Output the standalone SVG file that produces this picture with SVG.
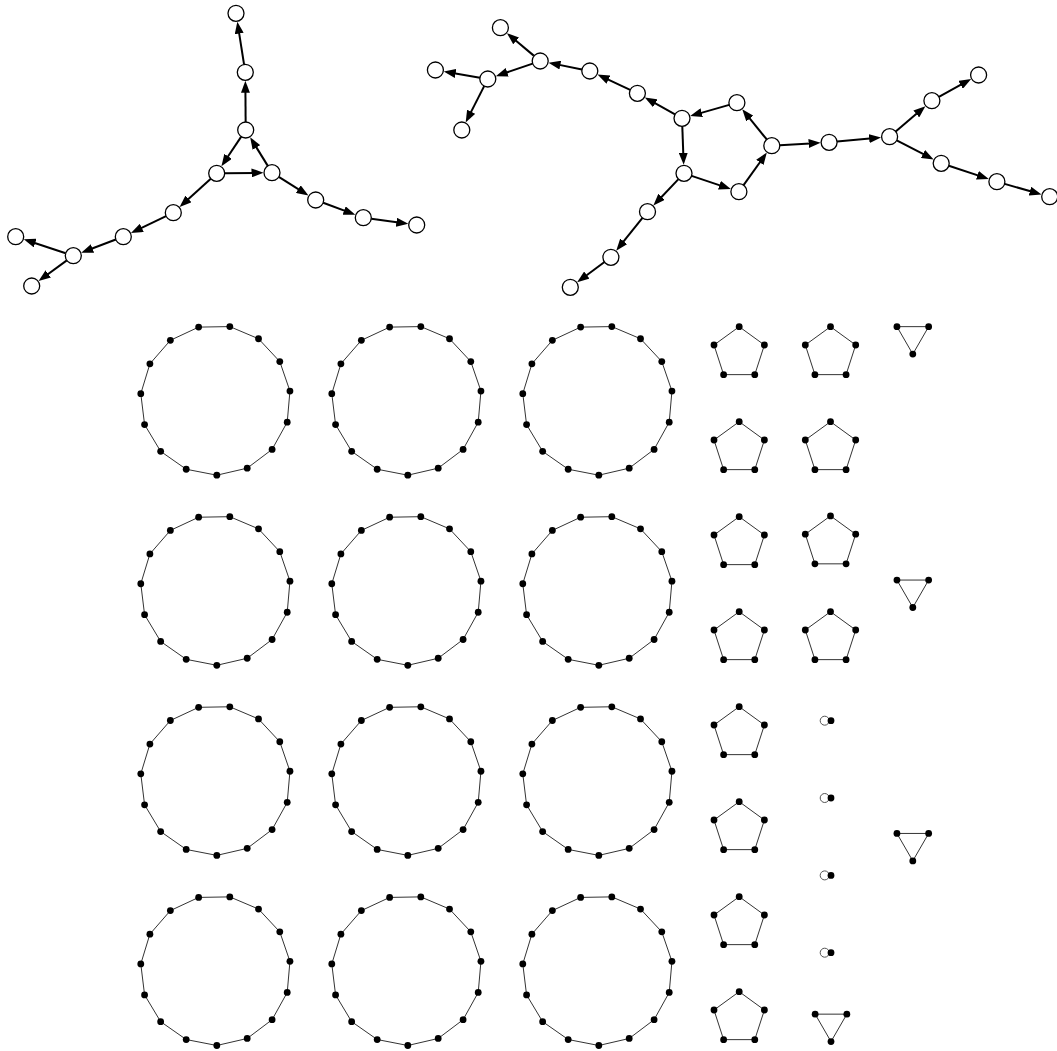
<svg xmlns="http://www.w3.org/2000/svg" xmlns:xlink="http://www.w3.org/1999/xlink" width="1057" height="1051" viewBox="0 0 1057 1051">
<style>
.n circle{fill:#fff;stroke:#000;stroke-width:1.3}
.e path{fill:none;stroke:#000;stroke-width:2;marker-end:url(#ah)}
</style>
<defs>
<marker id="ah" viewBox="0 0 12 9" refX="6" refY="4.5" markerWidth="12" markerHeight="9" markerUnits="userSpaceOnUse" orient="auto"><path d="M0,0 L12,4.5 L0,9 z" fill="#000"/></marker>
<g id="c15">
<polygon points="1.31,74.99 -29.30,69.04 -54.85,51.15 -70.91,24.42 -74.71,-6.54 -65.60,-36.36 -45.14,-59.90 -16.87,-73.08 14.31,-73.62 43.02,-61.44 64.29,-38.63 74.44,-9.14 71.72,21.93 56.60,49.20 31.70,67.97" fill="none" stroke="#333" stroke-width="1"/>
<g fill="#000">
<circle cx="1.31" cy="74.99" r="3.4"/><circle cx="-29.30" cy="69.04" r="3.4"/><circle cx="-54.85" cy="51.15" r="3.4"/><circle cx="-70.91" cy="24.42" r="3.4"/><circle cx="-74.71" cy="-6.54" r="3.4"/><circle cx="-65.60" cy="-36.36" r="3.4"/><circle cx="-45.14" cy="-59.90" r="3.4"/><circle cx="-16.87" cy="-73.08" r="3.4"/><circle cx="14.31" cy="-73.62" r="3.4"/><circle cx="43.02" cy="-61.44" r="3.4"/><circle cx="64.29" cy="-38.63" r="3.4"/><circle cx="74.44" cy="-9.14" r="3.4"/><circle cx="71.72" cy="21.93" r="3.4"/><circle cx="56.60" cy="49.20" r="3.4"/><circle cx="31.70" cy="67.97" r="3.4"/>
</g>
</g>
<g id="c5">
<polygon points="0,-26.5 25.20,-8.19 15.58,21.44 -15.58,21.44 -25.20,-8.19" fill="none" stroke="#333" stroke-width="1"/>
<g fill="#000"><circle cx="0" cy="-26.5" r="3.4"/><circle cx="25.20" cy="-8.19" r="3.4"/><circle cx="15.58" cy="21.44" r="3.4"/><circle cx="-15.58" cy="21.44" r="3.4"/><circle cx="-25.20" cy="-8.19" r="3.4"/></g>
</g>
<g id="c3">
<polygon points="-15.85,-9.15 15.85,-9.15 0,18.3" fill="none" stroke="#333" stroke-width="1"/>
<g fill="#000"><circle cx="-15.85" cy="-9.15" r="3.4"/><circle cx="15.85" cy="-9.15" r="3.4"/><circle cx="0" cy="18.3" r="3.4"/></g>
</g>
<g id="c1">
<circle cx="-6.3" cy="0" r="4.5" fill="none" stroke="#555" stroke-width="1"/>
<circle cx="0" cy="0" r="3.4" fill="#000"/>
</g>
</defs>
<rect width="1057" height="1051" fill="#fff"/>
<g id="connectors" class="e">
<path d="M244.05,64.40 L238.26,27.62"/>
<path d="M245.64,122.0 L245.40,86.8"/>
<path d="M241.25,136.65 L224.77,161.25"/>
<path d="M224.7,173.21 L257.5,172.86"/>
<path d="M267.8,165.89 L253.3,142.35"/>
<path d="M278.78,176.94 L303.4,192.32"/>
<path d="M323.2,202.79 L349.71,212.65"/>
<path d="M371.23,218.78 L402.33,223.04"/>
<path d="M210.78,178.68 L184.04,202.95"/>
<path d="M166.09,216.16 L136.37,230.43"/>
<path d="M115.82,239.54 L86.85,250.55"/>
<path d="M65.70,253.19 L29.47,241.24"/>
<path d="M66.83,260.41 L43.42,277.46"/>
<path d="M534.06,55.87 L511.52,37.0"/>
<path d="M532.63,63.6 L501.51,74.29"/>
<path d="M479.92,77.65 L449.69,72.45"/>
<path d="M484.17,86.13 L468.39,117.08"/>
<path d="M581.96,69.42 L554.41,63.87"/>
<path d="M630.16,89.91 L602.93,77.15"/>
<path d="M675.02,114.39 L650.05,100.39"/>
<path d="M729.2,104.89 L695.95,114.34"/>
<path d="M682.29,126.29 L683.47,158.81"/>
<path d="M691.59,175.84 L725.15,187.09"/>
<path d="M743.55,185.19 L763.36,157.49"/>
<path d="M766.76,139.49 L746.04,113.96"/>
<path d="M779.79,145.23 L814.63,143.16"/>
<path d="M837.07,141.56 L875.16,138.04"/>
<path d="M895.69,131.52 L920.86,110.10"/>
<path d="M938.91,96.84 L965.9,81.99"/>
<path d="M896.71,140.37 L928.31,156.66"/>
<path d="M948.8,165.81 L983.13,177.15"/>
<path d="M1004.6,183.89 L1035.75,192.74"/>
<path d="M678.49,179.1 L657.49,201.19"/>
<path d="M642.49,217.94 L619.98,245.99"/>
<path d="M604.47,262.05 L581.96,278.68"/>
</g>
<g id="nodes-left" class="n">
<g id="a1"><circle cx="236" cy="13.3" r="8"/></g>
<g id="a2"><circle cx="245.3" cy="72.3" r="8"/></g>
<g id="a3"><circle cx="245.7" cy="130" r="8"/></g>
<g id="a4"><circle cx="216.7" cy="173.3" r="8"/></g>
<g id="a5"><circle cx="272" cy="172.7" r="8"/></g>
<g id="a6"><circle cx="315.7" cy="200" r="8"/></g>
<g id="a7"><circle cx="363.3" cy="217.7" r="8"/></g>
<g id="a8"><circle cx="416.7" cy="225" r="8"/></g>
<g id="a9"><circle cx="173.3" cy="212.7" r="8"/></g>
<g id="a10"><circle cx="123.3" cy="236.7" r="8"/></g>
<g id="a11"><circle cx="73.3" cy="255.7" r="8"/></g>
<g id="a12"><circle cx="15.7" cy="236.7" r="8"/></g>
<g id="a13"><circle cx="31.7" cy="286" r="8"/></g>
</g>
<g id="nodes-right" class="n">
<g id="b1"><circle cx="500.4" cy="27.7" r="8"/></g>
<g id="b2"><circle cx="540.2" cy="61" r="8"/></g>
<g id="b3"><circle cx="487.8" cy="79" r="8"/></g>
<g id="b4"><circle cx="435.4" cy="70" r="8"/></g>
<g id="b5"><circle cx="461.8" cy="130" r="8"/></g>
<g id="b6"><circle cx="589.8" cy="71" r="8"/></g>
<g id="b7"><circle cx="637.4" cy="93.3" r="8"/></g>
<g id="b8"><circle cx="682" cy="118.3" r="8"/></g>
<g id="b9"><circle cx="736.9" cy="102.7" r="8"/></g>
<g id="b10"><circle cx="771.8" cy="145.7" r="8"/></g>
<g id="b11"><circle cx="684" cy="173.3" r="8"/></g>
<g id="b12"><circle cx="738.9" cy="191.7" r="8"/></g>
<g id="b13"><circle cx="829.1" cy="142.3" r="8"/></g>
<g id="b14"><circle cx="889.6" cy="136.7" r="8"/></g>
<g id="b15"><circle cx="931.9" cy="100.7" r="8"/></g>
<g id="b16"><circle cx="978.6" cy="75" r="8"/></g>
<g id="b17"><circle cx="941.2" cy="163.3" r="8"/></g>
<g id="b18"><circle cx="996.9" cy="181.7" r="8"/></g>
<g id="b19"><circle cx="1049.7" cy="196.7" r="8"/></g>
<g id="b20"><circle cx="647.5" cy="211.7" r="8"/></g>
<g id="b21"><circle cx="610.9" cy="257.3" r="8"/></g>
<g id="b22"><circle cx="570.3" cy="287.3" r="8"/></g>
</g>
<g id="cycles15">
<g id="k1"><use href="#c15" x="215.5" y="400.2"/></g>
<g id="k2"><use href="#c15" x="406.5" y="400.2"/></g>
<g id="k3"><use href="#c15" x="597.5" y="400.2"/></g>
<g id="k4"><use href="#c15" x="215.5" y="590.3"/></g>
<g id="k5"><use href="#c15" x="406.5" y="590.3"/></g>
<g id="k6"><use href="#c15" x="597.5" y="590.3"/></g>
<g id="k7"><use href="#c15" x="215.5" y="780.4"/></g>
<g id="k8"><use href="#c15" x="406.5" y="780.4"/></g>
<g id="k9"><use href="#c15" x="597.5" y="780.4"/></g>
<g id="k10"><use href="#c15" x="215.5" y="970.5"/></g>
<g id="k11"><use href="#c15" x="406.5" y="970.5"/></g>
<g id="k12"><use href="#c15" x="597.5" y="970.5"/></g>
</g>
<g id="cycles5">
<g id="p1"><use href="#c5" x="739.2" y="353.2"/></g>
<g id="p2"><use href="#c5" x="739.2" y="448.2"/></g>
<g id="p3"><use href="#c5" x="739.2" y="543.2"/></g>
<g id="p4"><use href="#c5" x="739.2" y="638.2"/></g>
<g id="p5"><use href="#c5" x="739.2" y="733.2"/></g>
<g id="p6"><use href="#c5" x="739.2" y="828.2"/></g>
<g id="p7"><use href="#c5" x="739.2" y="923.2"/></g>
<g id="p8"><use href="#c5" x="739.2" y="1018.2"/></g>
<g id="p9"><use href="#c5" x="830.5" y="353.2"/></g>
<g id="p10"><use href="#c5" x="830.5" y="448.2"/></g>
<g id="p11"><use href="#c5" x="830.5" y="542.4"/></g>
<g id="p12"><use href="#c5" x="830.5" y="638.2"/></g>
</g>
<g id="cycles3">
<g id="t1"><use href="#c3" x="912.8" y="335.8"/></g>
<g id="t2"><use href="#c3" x="912.8" y="589.2"/></g>
<g id="t3"><use href="#c3" x="912.8" y="842.6"/></g>
<g id="t4"><use href="#c3" x="831" y="1023.3"/></g>
</g>
<g id="loops">
<g id="s1"><use href="#c1" x="831" y="720.7"/></g>
<g id="s2"><use href="#c1" x="831" y="798.0"/></g>
<g id="s3"><use href="#c1" x="831" y="875.4"/></g>
<g id="s4"><use href="#c1" x="831" y="952.7"/></g>
</g>
</svg>
